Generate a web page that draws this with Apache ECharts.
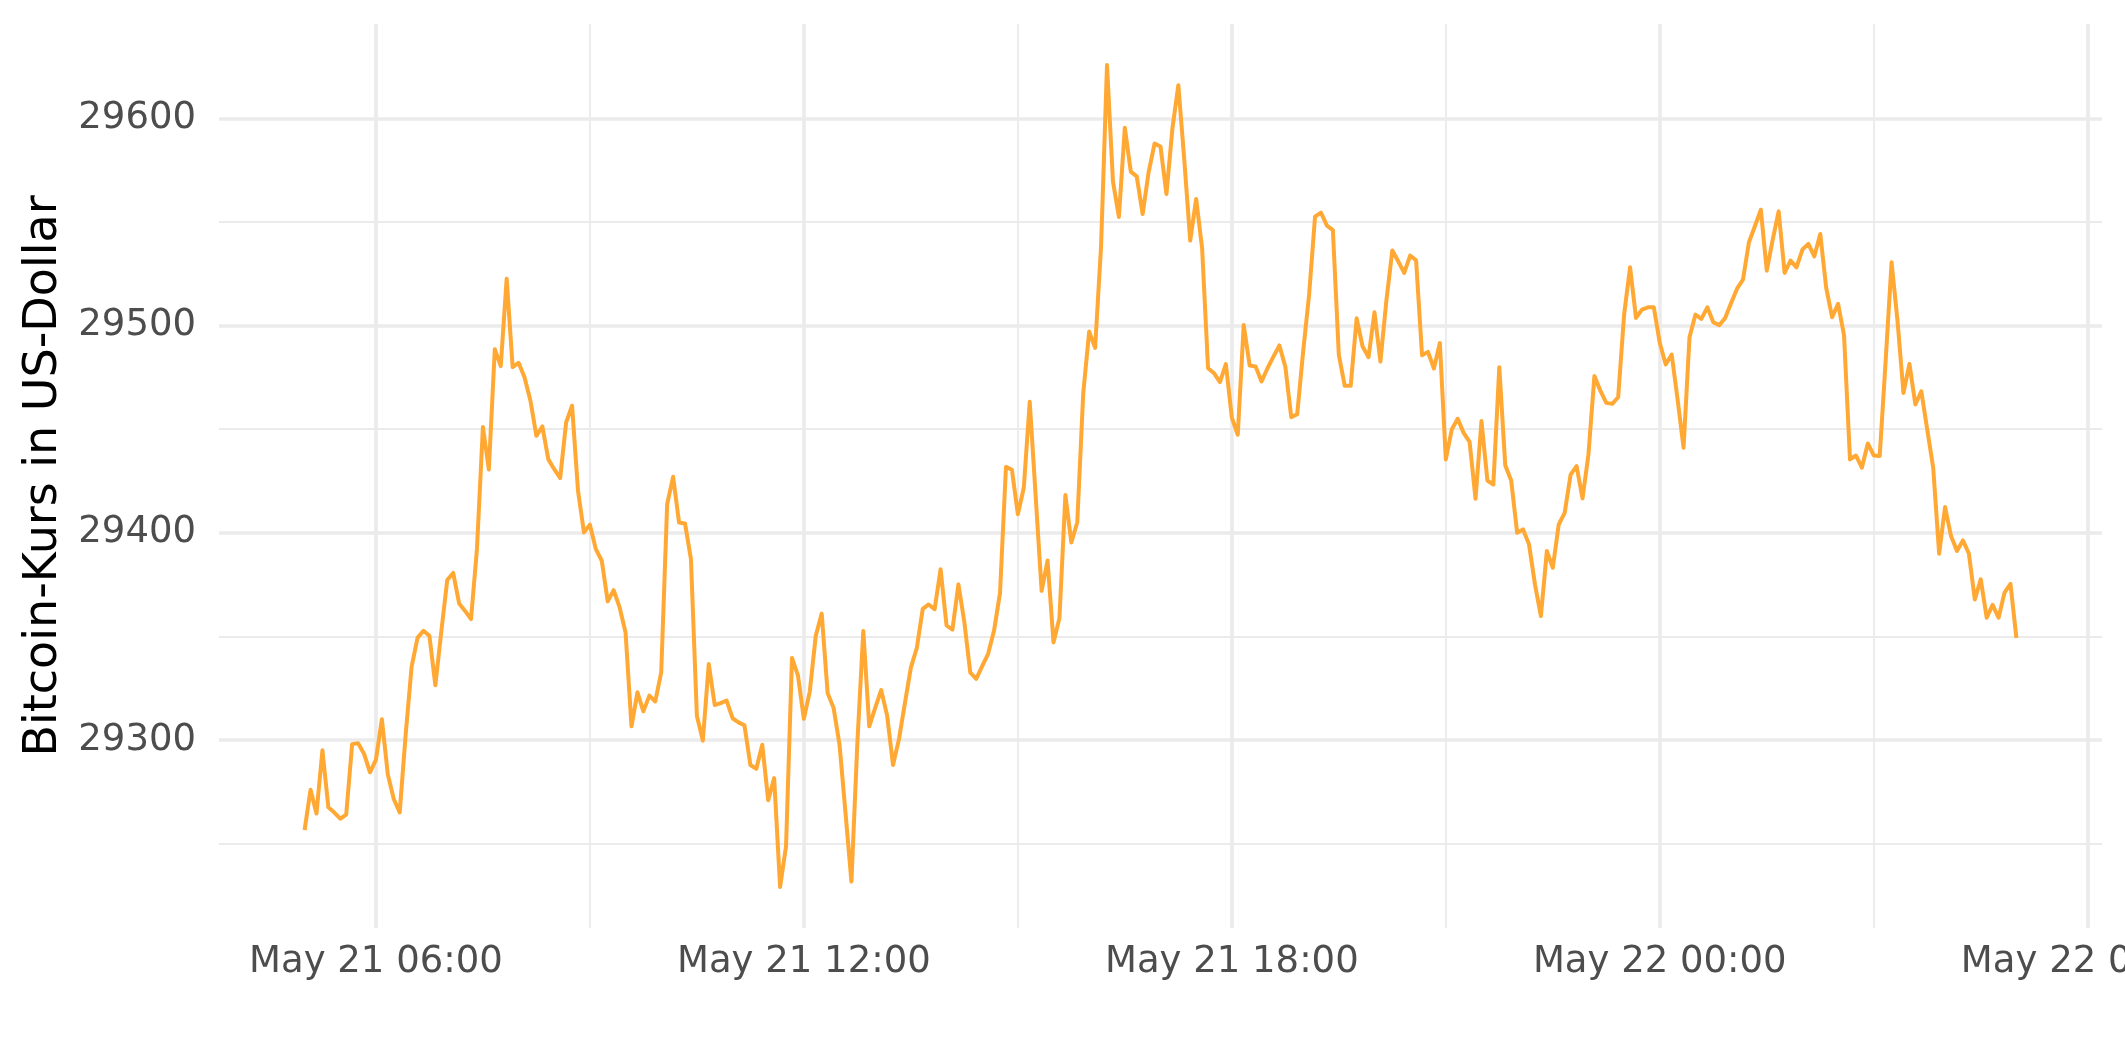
<!DOCTYPE html>
<html><head><meta charset="utf-8">
<script src="https://cdn.jsdelivr.net/npm/echarts@6/dist/echarts.min.js"></script>
<style>html,body{margin:0;padding:0;background:#fff}#c{width:2125px;height:1062px}</style>
</head><body><div id="c"></div>
<script>
// Bitcoin price, May 21 2022 05:00 -> May 22 2022 05:00, 5-minute steps
const prices = [
29256.5,29276,29264.5,29295,29267.5,29265,29262,29264,29298,29298.4,29293.4,29284.4,
29290.4,29310,29283.4,29271.5,29265,29302.4,29335.3,29349.3,29352.7,29350.3,29326.4,29352.3,
29377.2,29380.6,29365.9,29362.3,29358.3,29392.2,29451,29430.5,29488.6,29480.4,29522.6,29480,
29482,29475,29463.7,29446.8,29451.3,29435.5,29430.7,29426.4,29453.2,29461.3,29420.3,29400.2,
29403.9,29392.1,29386.5,29366.9,29372.3,29364,29351.9,29306.6,29323,29313.8,29321.4,29318.6,
29332.6,29413.8,29427,29405,29404.5,29387.3,29311.7,29299.7,29336.7,29316.9,29317.8,29319,
29310.5,29308.5,29307.1,29287.9,29286.1,29297.7,29270.9,29281.6,29229.1,29248.7,29339.6,29331.2,
29310.2,29323.5,29350.3,29361,29322.6,29315.5,29297.7,29265,29231.7,29298.6,29352.6,29306.6,
29315.5,29324.1,29311.9,29287.9,29300.4,29317.8,29334.9,29344.4,29363.3,29365.4,29363.1,29382.4,
29355.3,29353.3,29375.1,29356.8,29332.5,29329.5,29335.6,29341.6,29352.8,29371,29431.8,29430.4,
29408.9,29421.7,29463.2,29417.6,29372,29386.6,29347.1,29358.9,29418.2,29395.3,29405.1,29467.3,
29497.1,29489.2,29538.2,29625.7,29569.6,29552.4,29595.5,29574.3,29572,29553.8,29574,29587.8,
29586.4,29563.5,29595,29616,29580,29541,29561.1,29537.3,29479.4,29477,29472.7,29481.4,
29455.6,29447.3,29500.3,29480.7,29480.2,29473,29479.4,29485,29490.4,29480.2,29455.8,29457.2,
29487.5,29514.8,29552.6,29554.5,29548.2,29546.1,29485.9,29470.9,29470.9,29503.5,29489.9,29484.7,
29506.4,29482.6,29512,29536.2,29531,29525.4,29533.8,29531.5,29485.7,29487.3,29479.3,29491.6,
29435.4,29449.8,29455,29448.2,29443.9,29416.4,29453.9,29425.2,29423.3,29479.9,29432.6,29425.2,
29400,29401.6,29394.4,29375.1,29359.8,29391.2,29383.1,29404,29409.6,29428.1,29432.2,29416.6,
29437.8,29475.6,29468.6,29462.7,29462.2,29465.4,29505.3,29528.1,29503.7,29507.7,29508.8,29508.8,
29491.6,29481.2,29486,29464.3,29441,29494.4,29505.3,29503.2,29508.8,29501.6,29500.2,29503.7,
29510.9,29517.8,29522.2,29540.2,29547.9,29555.9,29526.5,29541.5,29555.1,29525.4,29531.4,29528.1,
29536.7,29539.4,29533.4,29544.2,29518.2,29504,29510.5,29495.3,29435.4,29437.3,29431.4,29443.1,
29437.3,29437,29483,29530.5,29502.1,29467.5,29481.5,29461.9,29468.3,29449.8,29431.4,29389.9,
29412.4,29398.4,29391.2,29396.3,29390,29367.8,29377.5,29359,29365.2,29359,29371.1,29375.3,
29349.2
];
const firstHour = 5;      // hours after May 21 00:00 of the first sample
const stepMinutes = 5;    // sampling step

const xTickHours = [6, 12, 18, 24, 30];
const xTickLabels = ['May 21 06:00', 'May 21 12:00', 'May 21 18:00', 'May 22 00:00', 'May 22 06:00'];
const xMinorHours = [9, 15, 21, 27];
const yTicks = [29300, 29400, 29500, 29600];
const yTickLabels = ['29300', '29400', '29500', '29600'];
const yMinorTicks = [29250, 29350, 29450, 29550];
const yTitle = 'Bitcoin-Kurs in US-Dollar';

const pts = prices.map((p, i) => [firstHour + i * stepMinutes / 60, p]);
const xs = pts.map(d => d[0]);
const xLo = Math.min(...xs), xHi = Math.max(...xs);
const xPad = (xHi - xLo) * 0.05;
const yLo = Math.min(...prices), yHi = Math.max(...prices);
const yPad = (yHi - yLo) * 0.05;

const FONT = 'DejaVu Sans';
const gridColor = '#EBEBEB';

const chart = echarts.init(document.getElementById('c'), null, { renderer: 'canvas' });
chart.setOption({
  animation: false,
  backgroundColor: '#ffffff',
  grid: { left: 219, right: 23, top: 24, bottom: 134, containLabel: false, outerBoundsMode: 'none' },
  xAxis: [{
    type: 'value', min: xLo - xPad, max: xHi + xPad,
    axisLine: { show: false },
    axisTick: { show: false, customValues: xTickHours },
    axisLabel: {
      customValues: xTickHours,
      formatter: v => xTickLabels[xTickHours.indexOf(v)] || '',
      fontFamily: FONT, fontSize: 37, color: '#4D4D4D', margin: 16
    },
    splitLine: { show: true, lineStyle: { color: gridColor, width: 3.6 } }
  }, {
    type: 'value', min: xLo - xPad, max: xHi + xPad, position: 'bottom',
    axisLine: { show: false },
    axisTick: { show: false, customValues: xMinorHours },
    axisLabel: { show: false, customValues: xMinorHours },
    splitLine: { show: true, lineStyle: { color: gridColor, width: 1.8 } }
  }],
  yAxis: [{
    type: 'value', min: yLo - yPad, max: yHi + yPad,
    axisLine: { show: false },
    axisTick: { show: false, customValues: yTicks },
    axisLabel: {
      customValues: yTicks,
      formatter: v => yTickLabels[yTicks.indexOf(v)] || '',
      fontFamily: FONT, fontSize: 37, color: '#4D4D4D', margin: 23
    },
    splitLine: { show: true, lineStyle: { color: gridColor, width: 3.6 } },
    name: yTitle, nameLocation: 'middle', nameGap: 146,
    nameTextStyle: { fontFamily: FONT, fontSize: 46, color: '#000000' }
  }, {
    type: 'value', min: yLo - yPad, max: yHi + yPad, position: 'left',
    axisLine: { show: false },
    axisTick: { show: false, customValues: yMinorTicks },
    axisLabel: { show: false, customValues: yMinorTicks },
    splitLine: { show: true, lineStyle: { color: gridColor, width: 1.8 } }
  }],
  series: [{
    type: 'line', data: pts, xAxisIndex: 0, yAxisIndex: 0,
    showSymbol: false, symbol: 'none', z: 5,
    lineStyle: { color: '#FFA833', width: 4, join: 'round', cap: 'butt' }
  }]
});
</script>
</body></html>
